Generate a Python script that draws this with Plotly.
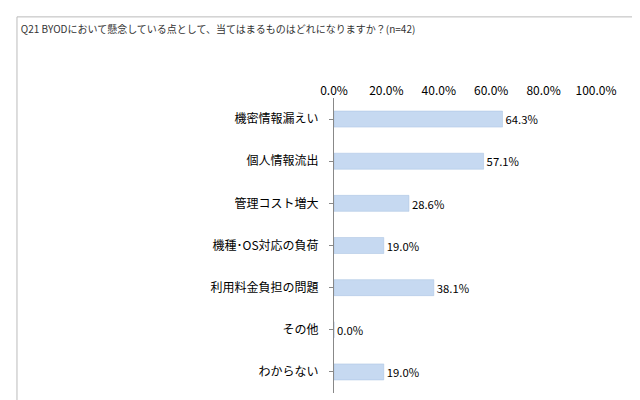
import plotly.graph_objects as go

categories = ["機密情報漏えい", "個人情報流出", "管理コスト増大", "機種･OS対応の負荷", "利用料金負担の問題", "その他", "わからない"]
values = [64.3, 57.1, 28.6, 19.0, 38.1, 0.0, 19.0]
tick_vals = [0, 20, 40, 60, 80, 100]
tick_text = ["0.0%", "20.0%", "40.0%", "60.0%", "80.0%", "100.0%"]

fig = go.Figure(go.Bar(
    x=values, y=categories, orientation="h",
    marker=dict(color="#c6d9f1", line=dict(color="#a6c0e0", width=0.5)),
    width=0.38,
    text=[f"{v:.1f}%" for v in values], textposition="outside",
    textfont=dict(size=12, color="#000"), cliponaxis=False,
))
fig.update_layout(
    width=640, height=400, plot_bgcolor="white", paper_bgcolor="white",
    margin=dict(l=326, r=52, t=90, b=15), showlegend=False,
    font=dict(family="Noto Sans CJK JP", size=12, color="#000"),
    title=dict(text="Q21 BYODにおいて懸念している点として、当てはまるものはどれになりますか？(n=42)",
               x=0.02, y=0.955, xanchor="left", font=dict(size=10, color="#333")),
    shapes=[dict(type="rect", xref="paper", yref="paper", x0=-1.21, x1=1.168, y0=-0.034, y1=1.275,
                 line=dict(color="#bbbbbb", width=1))],
)
fig.update_xaxes(range=[0, 100], side="top", tickvals=tick_vals, ticktext=tick_text,
                 showgrid=False, zeroline=False, showline=False, ticks="", tickfont=dict(size=12))
fig.update_yaxes(autorange="reversed", showline=True, linecolor="#888", ticks="outside",
                 ticklen=4, tickcolor="#888", ticklabelstandoff=8, showgrid=False)
fig.write_html("out.html")
